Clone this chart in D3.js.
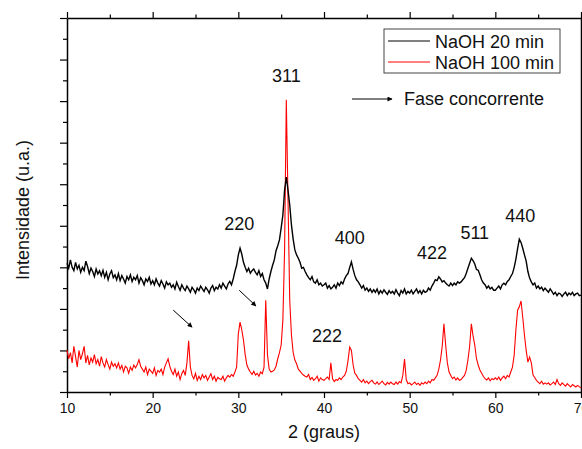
<!DOCTYPE html>
<html>
<head>
<meta charset="utf-8">
<script src="https://cdn.jsdelivr.net/npm/d3@7"></script>
<style>
    body { margin: 0; background: #fff; }
    svg { display: block; font-family: "Liberation Sans", Arial, sans-serif; }
</style>
</head>
<body>
<svg id="chart" width="582" height="449"></svg>
<script>
// =======================
//  Data (2theta from 10 to 70, step 0.2)
// =======================

var X_START = 10;
var X_STEP = 0.2;

// NaOH 20 min (black), one row = 2 degrees
var naoh20 = [
    310, 298, 318, 300, 292, 312, 296, 305, 288, 300,
    292, 315, 302, 285, 298, 290, 278, 296, 284, 292,
    280, 293, 276, 288, 270, 284, 292, 275, 282, 270,
    285, 268, 280, 272, 262, 278, 270, 282, 266, 276,
    270, 280, 262, 275, 268, 258, 272, 266, 276, 260,
    268, 258, 272, 262, 255, 268, 260, 250, 265, 258,
    262, 252, 258, 248, 264, 254, 245, 258, 250, 244,
    255, 248, 240, 252, 246, 238, 250, 244, 255, 248,
    242, 252, 246, 238, 250, 256, 244, 252, 248, 258,
    250, 262, 255, 248, 260, 266, 258, 272, 290, 305,
    330, 346, 332, 312, 300, 290, 298, 286, 292, 296,
    288, 282, 292, 278, 285, 270, 262, 248, 272, 290,
    305, 318, 340, 352, 366, 395, 426, 486, 517, 486,
    450, 402, 368, 342, 330, 322, 312, 298, 300, 290,
    282, 275, 270, 278, 265, 262, 270, 258, 262, 255,
    258, 262, 250, 256, 248, 252, 258, 250, 262, 256,
    265, 260, 272, 280, 285, 300, 313, 295, 280, 270,
    265, 258, 250, 256, 245, 250, 242, 248, 240, 246,
    240, 248, 236, 244, 238, 246, 240, 235, 244, 238,
    242, 236, 246, 238, 232, 244, 238, 248, 236, 242,
    238, 245, 236, 242, 248, 238, 244, 236, 245, 240,
    242, 250, 245, 255, 262, 270, 268, 277, 272, 265,
    268, 262, 258, 255, 262, 256, 262, 258, 265, 262,
    265, 270, 275, 285, 298, 310, 322, 316, 308, 295,
    293, 282, 270, 262, 258, 250, 255, 248, 252, 245,
    245, 250, 255, 248, 258, 262, 258, 266, 270, 278,
    285, 300, 320, 345, 368, 360, 346, 330, 315, 290,
    274, 265, 258, 262, 250, 255, 248, 252, 244, 250,
    245, 240, 248, 242, 235, 240, 232, 238, 236, 230,
    236, 240, 232, 238, 234, 240, 232, 236, 238, 232,
    233
];

// NaOH 100 min (red)
var naoh100 = [
    101, 80, 95, 70, 110, 85, 60, 100, 78, 92,
    110, 70, 88, 65, 82, 72, 90, 68, 78, 62,
    85, 70, 60, 78, 66, 55, 72, 62, 68, 58,
    70, 55, 64, 48, 62, 58, 45, 60, 52, 65,
    58, 66, 78, 62, 55, 48, 60, 42, 55, 50,
    45, 58, 40, 52, 48, 55, 42, 60, 70, 80,
    62, 50, 42, 55, 38, 48, 30, 44, 52, 40,
    70, 123, 60, 40, 32, 45, 28, 38, 30, 42,
    34, 40, 28, 36, 44, 30, 38, 26, 35, 32,
    30, 38, 26, 34, 40, 36, 42, 38, 48, 60,
    140, 168, 150, 125, 90, 65, 55, 48, 42, 50,
    41, 45, 38, 48, 44, 60, 221, 90, 55, 48,
    50, 53, 62, 80, 95, 113, 173, 342, 703, 462,
    221, 137, 95, 77, 68, 55, 50, 45, 41, 38,
    36, 42, 30, 35, 28, 32, 38, 26, 34, 30,
    28, 32, 36, 30, 70, 32, 25, 30, 28, 34,
    30, 36, 40, 50, 75, 108, 100, 65, 45, 40,
    32, 28, 24, 30, 22, 26, 20, 25, 28, 22,
    19, 24, 18, 22, 26, 20, 17, 23, 19, 24,
    20, 18, 24, 19, 25, 22, 40, 79, 30, 20,
    22, 17, 20, 24, 18, 21, 16, 22, 19, 24,
    20, 26, 22, 30, 28, 34, 40, 55, 77, 110,
    164, 113, 70, 48, 40, 32, 36, 29, 34, 28,
    30, 35, 40, 52, 77, 110, 164, 135, 113, 80,
    65, 53, 45, 38, 32, 29, 34, 27, 32, 30,
    34, 30, 36, 28, 34, 38, 32, 40, 36, 48,
    60, 89, 150, 197, 205, 219, 180, 137, 100, 72,
    84, 70, 41, 35, 28, 24, 20, 26, 19, 22,
    19, 22, 17, 20, 24, 18, 30, 20, 16, 22,
    18, 14, 20, 16, 12, 18, 15, 12, 16, 13,
    10
];

var xTicks = [10, 20, 30, 40, 50, 60, 70];
var seriesNames = ["NaOH 20 min", "NaOH 100 min"];
var seriesColors = ["#000000", "#ff0000"];

// peak labels: [label, 2theta, intensity]
var peakLabels = [
    ["220", 30.1, 391],
    ["311", 35.6, 746],
    ["400", 43.0, 355],
    ["422", 52.6, 319],
    ["511", 57.6, 369],
    ["440", 62.9, 410],
    ["222", 40.35, 121]
];

// secondary phase arrows: [x1, y1, x2, y2] in data units
var phaseArrows = [
    [22.4, 197, 24.6, 156],
    [30.1, 245, 32.05, 207]
];

// =======================
//  Setup
// =======================

var W = 582, H = 449;
var margin = {top: 18, right: 1, bottom: 57, left: 67};
var innerW = W - margin.left - margin.right;
var innerH = H - margin.top - margin.bottom;
var FONT = 18;

var svg = d3.select("#chart");

svg.append("defs").append("marker")
    .attr("id", "arrowhead")
    .attr("viewBox", "0 0 10 10")
    .attr("refX", 9)
    .attr("refY", 5)
    .attr("markerWidth", 7)
    .attr("markerHeight", 5)
    .attr("markerUnits", "userSpaceOnUse")
    .attr("orient", "auto")
    .append("path")
    .attr("d", "M0,0 L10,5 L0,10 z")
    .attr("fill", "#000");

var g = svg.append("g").attr("transform", "translate(" + margin.left + "," + margin.top + ")");

var x = d3.scaleLinear().domain([10, 70]).range([0, innerW]);
var y = d3.scaleLinear().domain([0, 900]).range([innerH, 0]);

function toPoints(arr) {
    return arr.map(function(v, i) { return [X_START + i * X_STEP, v]; });
}

// =======================
//  Axes
// =======================

var xMinor = d3.range(15, 70, 10);
var yMajor = d3.range(0, 901, 100);
var yMinor = d3.range(50, 900, 100);

function styleAxis(sel) {
    sel.select(".domain").attr("stroke-width", 1.5);
    sel.selectAll(".tick line").attr("stroke-width", 1.2);
    return sel;
}
function minorOnly(sel) {
    sel.select(".domain").remove();
    sel.selectAll(".tick line").attr("stroke-width", 1.2);
}

// bottom
g.append("g").attr("transform", "translate(0," + innerH + ")")
    .call(d3.axisBottom(x).tickValues(xTicks).tickSize(6).tickSizeOuter(0).tickPadding(5).tickFormat(d3.format("d")))
    .call(styleAxis)
    .selectAll("text").attr("font-size", 14).attr("fill", "#111")
    .attr("font-family", "'Liberation Sans', Arial, sans-serif");
g.append("g").attr("transform", "translate(0," + innerH + ")")
    .call(d3.axisBottom(x).tickValues(xMinor).tickSize(3.5).tickSizeOuter(0).tickFormat(""))
    .call(minorOnly);

// top
g.append("g")
    .call(d3.axisTop(x).tickValues(xTicks).tickSize(6).tickSizeOuter(0).tickFormat(""))
    .call(styleAxis);
g.append("g")
    .call(d3.axisTop(x).tickValues(xMinor).tickSize(3.5).tickSizeOuter(0).tickFormat(""))
    .call(minorOnly);

// left
g.append("g")
    .call(d3.axisLeft(y).tickValues(yMajor).tickSize(7).tickSizeOuter(0).tickFormat(""))
    .call(styleAxis);
g.append("g")
    .call(d3.axisLeft(y).tickValues(yMinor).tickSize(4).tickSizeOuter(0).tickFormat(""))
    .call(minorOnly);

// right
g.append("g").attr("transform", "translate(" + innerW + ",0)")
    .call(d3.axisRight(y).tickValues(yMajor).tickSize(7).tickSizeOuter(0).tickFormat(""))
    .call(styleAxis);
g.append("g").attr("transform", "translate(" + innerW + ",0)")
    .call(d3.axisRight(y).tickValues(yMinor).tickSize(4).tickSizeOuter(0).tickFormat(""))
    .call(minorOnly);

// axis titles
svg.append("text")
    .attr("x", 324)
    .attr("y", 438)
    .attr("text-anchor", "middle")
    .attr("font-size", FONT)
    .attr("fill", "#111")
    .text("2 (graus)");

svg.append("text")
    .attr("transform", "translate(29,210) rotate(-90)")
    .attr("text-anchor", "middle")
    .attr("font-size", FONT)
    .attr("fill", "#111")
    .text("Intensidade (u.a.)");

// =======================
//  Lines
// =======================

var line = d3.line().x(d => x(d[0])).y(d => y(d[1]));

g.append("path")
    .datum(toPoints(naoh100))
    .attr("fill", "none")
    .attr("stroke", seriesColors[1])
    .attr("stroke-width", 1.1)
    .attr("d", line);

g.append("path")
    .datum(toPoints(naoh20))
    .attr("fill", "none")
    .attr("stroke", seriesColors[0])
    .attr("stroke-width", 1.4)
    .attr("d", line);

// =======================
//  Annotations
// =======================

g.selectAll(".peak")
    .data(peakLabels)
    .join("text")
    .attr("class", "peak")
    .attr("x", d => x(d[1]))
    .attr("y", d => y(d[2]))
    .attr("text-anchor", "middle")
    .attr("font-size", FONT)
    .attr("fill", "#111")
    .text(d => d[0]);

g.selectAll(".phase")
    .data(phaseArrows)
    .join("line")
    .attr("class", "phase")
    .attr("x1", d => x(d[0]))
    .attr("y1", d => y(d[1]))
    .attr("x2", d => x(d[2]))
    .attr("y2", d => y(d[3]))
    .attr("stroke", "#000")
    .attr("stroke-width", 1)
    .attr("marker-end", "url(#arrowhead)");

// "Fase concorrente" key
svg.append("line")
    .attr("x1", 352).attr("y1", 99)
    .attr("x2", 392).attr("y2", 99)
    .attr("stroke", "#000")
    .attr("stroke-width", 1)
    .attr("marker-end", "url(#arrowhead)");
svg.append("text")
    .attr("x", 404)
    .attr("y", 104.5)
    .attr("font-size", FONT)
    .attr("fill", "#111")
    .text("Fase concorrente");

// =======================
//  Legend
// =======================

var legend = svg.append("g").attr("transform", "translate(384,29)");
legend.append("rect")
    .attr("width", 176)
    .attr("height", 44)
    .attr("fill", "#fff")
    .attr("stroke", "#444")
    .attr("stroke-width", 1);

seriesNames.forEach(function(name, i) {
    var ly = 12 + i * 21;
    legend.append("line")
        .attr("x1", 4).attr("x2", 46)
        .attr("y1", ly).attr("y2", ly)
        .attr("stroke", seriesColors[i])
        .attr("stroke-width", 1);
    legend.append("text")
        .attr("x", 51)
        .attr("y", ly + 7)
        .attr("font-size", FONT)
        .attr("fill", "#111")
        .text(name);
});
</script>
</body>
</html>
